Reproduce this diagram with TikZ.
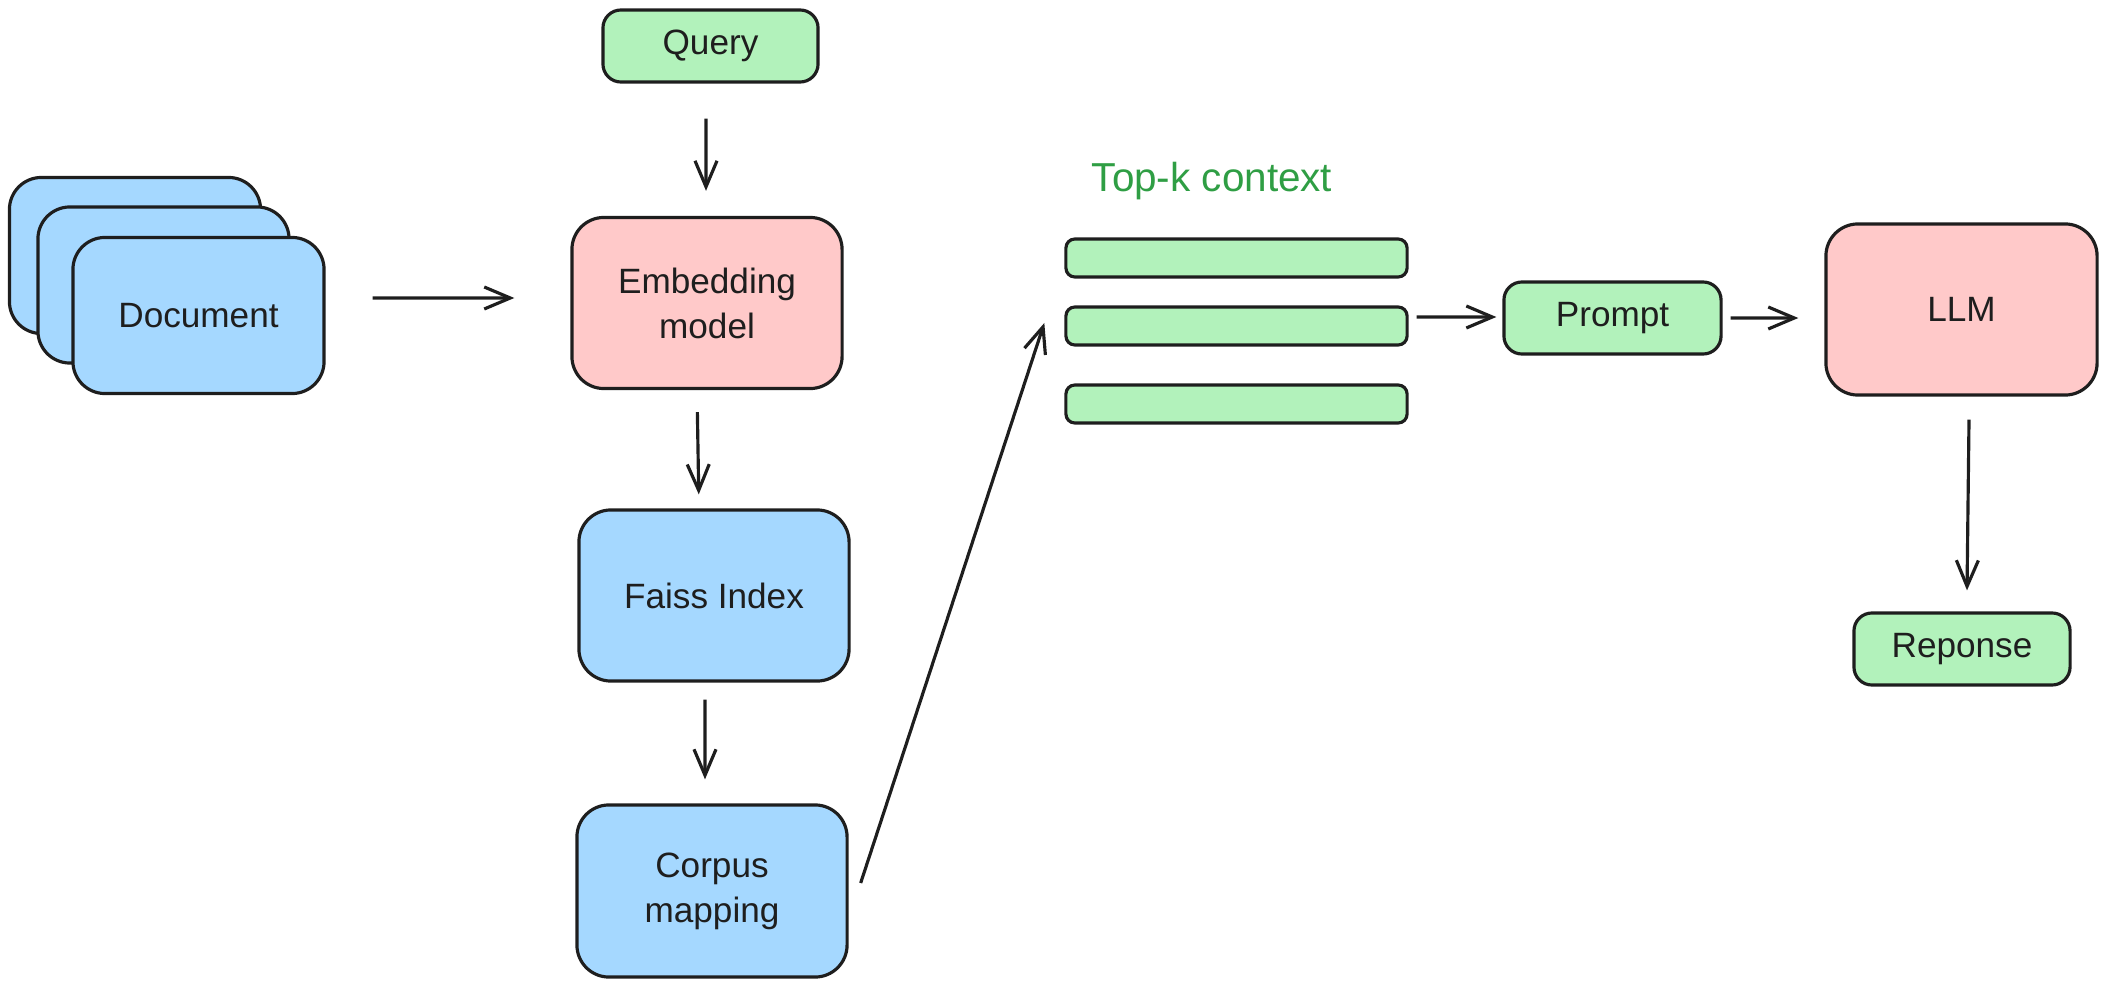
\documentclass[tikz,border=0pt]{standalone}
\usepackage{fontspec}
\setmainfont{Liberation Sans}
\usetikzlibrary{arrows.meta}
\definecolor{exblue}{HTML}{A5D8FF}
\definecolor{exgreen}{HTML}{B2F2BB}
\definecolor{expink}{HTML}{FFC9C9}
\definecolor{exstroke}{HTML}{1E1E1E}
\definecolor{extext}{HTML}{2F9E44}
\begin{document}
\begin{tikzpicture}[x=0.01cm,y=-0.01cm,
  box/.style={draw=exstroke, line width=0.9pt, rounded corners=0.32cm, inner sep=0pt,
    font=\fontsize{10}{12.8}\selectfont, text=exstroke, align=center},
  bluebox/.style={box, fill=exblue},
  pinkbox/.style={box, fill=expink},
  greenbox/.style={box, fill=exgreen, rounded corners=0.18cm},
  barbox/.style={box, fill=exgreen, rounded corners=0.09cm, minimum width=3.41cm, minimum height=0.38cm},
  docbox/.style={bluebox, minimum width=2.51cm, minimum height=1.56cm},
  bigbox/.style={minimum width=2.70cm, minimum height=1.71cm},
  smallbox/.style={minimum width=2.16cm, minimum height=0.72cm},
  arr/.style={draw=exstroke, line width=0.9pt, -{Straight Barb[length=2.6mm,width=2.2mm]}}
]
\useasboundingbox (0,0) rectangle (2106,985);

% document stack
\node[docbox] (docA) at (135,255.5) {};
\node[docbox] (docB) at (163.5,285) {};
\node[docbox] (docC) at (198.5,315.5) {Document};

% central column
\node[greenbox, smallbox, minimum width=2.15cm] (query) at (710.5,46) {Query};
\node[pinkbox, bigbox] (emb) at (707,303) {Embedding\\model};
\node[bluebox, bigbox] (faiss) at (714,595.5) {Faiss Index};
\node[bluebox, bigbox, minimum height=1.72cm] (corpus) at (712,891) {Corpus\\mapping};

% top-k context
\node[anchor=base, font=\fontsize{11.5}{13}\selectfont, text=extext, inner sep=0pt] (topk) at (1212,192) {Top-k context};
\node[barbox] (bar1) at (1236.5,258) {};
\node[barbox] (bar2) at (1236.5,326) {};
\node[barbox] (bar3) at (1236.5,404) {};

% right side
\node[greenbox, smallbox, minimum width=2.17cm] (prompt) at (1612.5,318) {Prompt};
\node[pinkbox, bigbox, minimum width=2.71cm] (llm) at (1961.5,309.5) {LLM};
\node[greenbox, smallbox] (reponse) at (1962,649) {Reponse};

% connectors
\draw[arr, shorten <=0.47cm, shorten >=0.56cm] ([yshift=0.175cm]docC.east) -- ([yshift=0.05cm]emb.west);
\draw[arr, shorten <=0.35cm, shorten >=0.25cm] ([xshift=-0.045cm]query.south) -- ([xshift=-0.01cm]emb.north);
\draw[arr, shorten <=0.22cm, shorten >=0.14cm] ([xshift=-0.10cm]emb.south) -- ([xshift=-0.15cm]faiss.north);
\draw[arr, shorten <=0.17cm, shorten >=0.24cm] ([xshift=-0.09cm]faiss.south) -- ([xshift=-0.07cm]corpus.north);
\draw[arr] ([shift={(0.12cm,0.08cm)}]corpus.east) -- ([shift={(-0.20cm,0.03cm)}]bar2.west);
\draw[arr] ([shift={(0.08cm,0.09cm)}]bar2.east) -- ([shift={(-0.06cm,0.01cm)}]prompt.west);
\draw[arr] ([xshift=0.08cm]prompt.east) -- ([shift={(-0.26cm,-0.085cm)}]llm.west);
\draw[arr] ([shift={(0.075cm,-0.23cm)}]llm.south) -- ([shift={(0.05cm,0.21cm)}]reponse.north);
\end{tikzpicture}
\end{document}
